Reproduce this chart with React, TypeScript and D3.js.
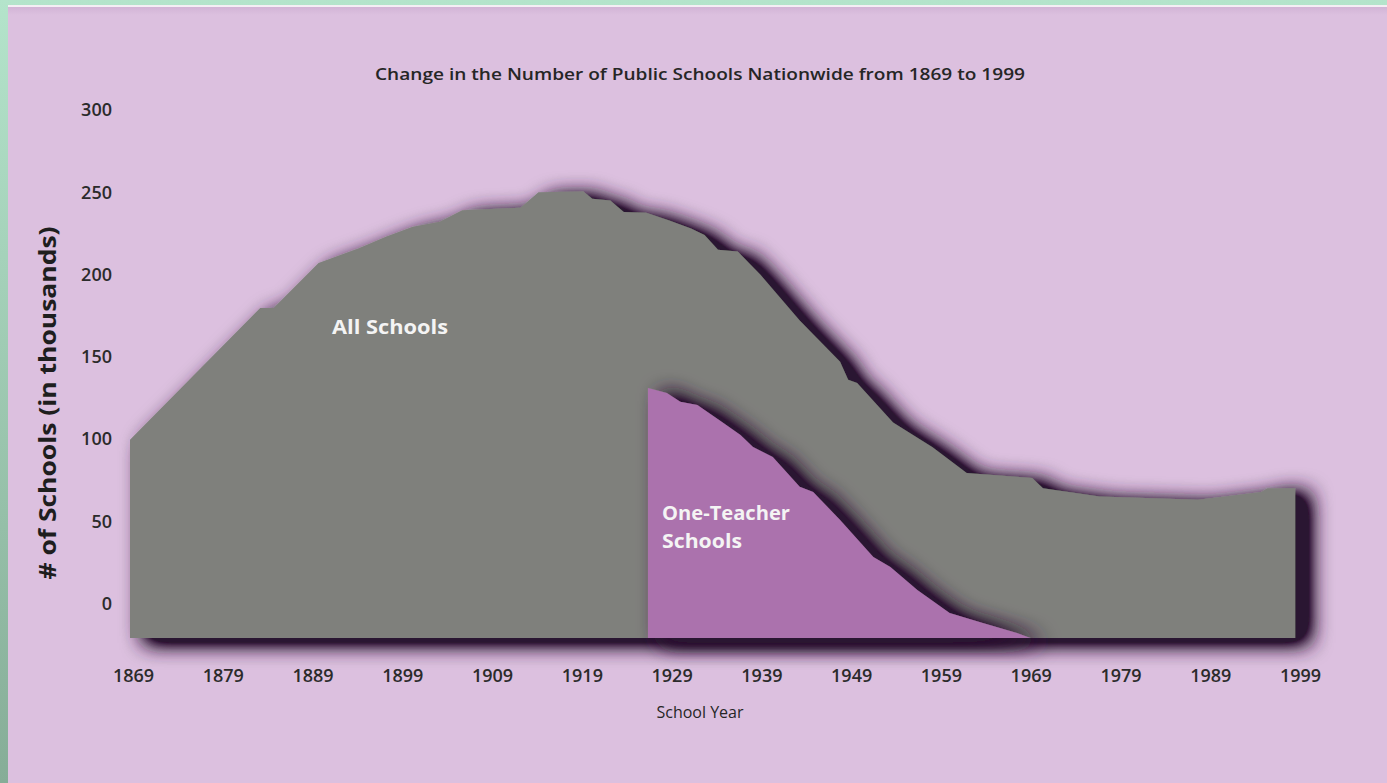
import React from "react";
import * as d3 from "d3";

const W = 1387;
const H = 783;

// All public schools (thousands)
const allYears = [1869, 1883.5, 1885, 1890, 1894.5, 1897.5, 1900.5, 1903.5, 1906, 1912.5, 1914.5, 1919.5, 1920.5, 1922.5, 1924, 1926.5, 1929, 1931.5, 1933, 1934.5, 1936.7, 1939.2, 1943.6, 1948.1, 1949, 1950, 1954, 1958.4, 1962.2, 1969.5, 1970.7, 1977, 1988, 1995, 1995.7, 1998.8];
const allValues = [99.5, 179.7, 179.7, 207, 216, 223, 229, 232, 239, 240.6, 250, 250.5, 246, 245, 238, 237.5, 233, 228, 224, 215, 214, 200, 172, 147, 136, 134, 110, 95, 79.4, 76.3, 70, 65, 63, 67.8, 70, 70];

// One-teacher schools (thousands)
const oneYears = [1926.7, 1928.8, 1930.3, 1932.2, 1935.1, 1937, 1938.4, 1940.6, 1943.6, 1945.1, 1948.1, 1951.8, 1953.7, 1956.7, 1960.3, 1964, 1967.8, 1969.3];
const oneValues = [131, 128, 122.6, 120.7, 109.8, 102.5, 95.2, 89, 70.9, 67.8, 50.8, 28.3, 22.2, 8.2, -5.8, -11.9, -17.9, -21];

const BASELINE = -21;
const yTicks = [0, 50, 100, 150, 200, 250, 300];
const xTicks = [1869, 1879, 1889, 1899, 1909, 1919, 1929, 1939, 1949, 1959, 1969, 1979, 1989, 1999];

const TITLE = "Change in the Number of Public Schools Nationwide from 1869 to 1999";
const Y_TITLE = "# of Schools (in thousands)";
const X_TITLE = "School Year";

export default function App() {
  const x = d3.scaleLinear().domain([1869, 1999]).range([130, 1297]);
  const y = d3.scaleLinear().domain([0, 300]).range([603.5, 110]);

  const allData = allYears.map((yr, i) => ({ yr, v: allValues[i] }));
  const oneData = oneYears.map((yr, i) => ({ yr, v: oneValues[i] }));

  const area = d3
    .area<{ yr: number; v: number }>()
    .x((d) => x(d.yr))
    .y0(y(BASELINE))
    .y1((d) => y(d.v))
    .curve(d3.curveLinear);

  const font = "'Open Sans', 'Liberation Sans', sans-serif";

  return (
    <svg
      width={W}
      height={H}
      style={{ position: "absolute", left: 0, top: 0, display: "block" }}
      xmlns="http://www.w3.org/2000/svg"
    >
      <defs>
        <linearGradient id="greenbg" x1="0" y1="0" x2="0" y2="1">
          <stop offset="0" stopColor="#b4e4cb" />
          <stop offset="1" stopColor="#86ad97" />
        </linearGradient>
        <linearGradient id="panelTop" x1="0" y1="0" x2="0" y2="1">
          <stop offset="0" stopColor="#d2b4d6" />
          <stop offset="1" stopColor="#dcc0df" />
        </linearGradient>
        <filter id="shadow" x="-10%" y="-25%" width="130%" height="160%">
          <feGaussianBlur in="SourceAlpha" stdDeviation="11" result="blur" />
          <feOffset in="blur" dx="14" dy="5" result="off" />
          <feComponentTransfer in="off" result="boost">
            <feFuncA type="linear" slope="1.9" intercept="0" />
          </feComponentTransfer>
          <feFlood floodColor="#2a1230" floodOpacity="1" result="col" />
          <feComposite in="col" in2="boost" operator="in" result="sh" />
          <feMerge>
            <feMergeNode in="sh" />
            <feMergeNode in="SourceGraphic" />
          </feMerge>
        </filter>
      </defs>

      <rect x={0} y={0} width={W} height={H} fill="url(#greenbg)" />
      <rect x={8} y={5} width={W - 8} height={H - 5} fill="#dcc0df" />
      <rect x={8} y={7} width={W - 8} height={8} fill="url(#panelTop)" />
      <rect x={8} y={5} width={W - 8} height={2} fill="#f4eef4" />

      <text
        x={700}
        y={80}
        textAnchor="middle"
        fontFamily={font}
        fontSize={17}
        fontWeight={600}
        fill="#262626"
        textLength={650}
        lengthAdjust="spacingAndGlyphs"
      >
        {TITLE}
      </text>

      {yTicks.map((t) => (
        <text
          key={t}
          x={112}
          y={y(t)}
          dy="0.35em"
          textAnchor="end"
          fontFamily={font}
          fontSize={18}
          fontWeight={600}
          fill="#2b2b2b"
        >
          {t}
        </text>
      ))}

      <text
        transform={`translate(56,403) rotate(-90)`}
        textAnchor="middle"
        fontFamily={font}
        fontSize={23}
        fontWeight={700}
        fill="#1e1e1e"
        textLength={353}
        lengthAdjust="spacingAndGlyphs"
      >
        {Y_TITLE}
      </text>

      <path d={area(allData) || ""} fill="#7f807c" filter="url(#shadow)" />
      <path d={area(oneData) || ""} fill="#ab72ad" filter="url(#shadow)" />

      <text
        x={390}
        y={327}
        dy="0.35em"
        textAnchor="middle"
        fontFamily={font}
        fontSize={20}
        fontWeight={700}
        fill="#f4f4f4"
        textLength={116}
        lengthAdjust="spacingAndGlyphs"
      >
        All Schools
      </text>
      <text x={662} y={513} dy="0.35em" fontFamily={font} fontSize={20} fontWeight={700} fill="#f4f4f4" textLength={128} lengthAdjust="spacingAndGlyphs">
        One-Teacher
      </text>
      <text x={662} y={541} dy="0.35em" fontFamily={font} fontSize={20} fontWeight={700} fill="#f4f4f4" textLength={80} lengthAdjust="spacingAndGlyphs">
        Schools
      </text>

      {xTicks.map((t) => (
        <text
          key={t}
          x={x(t) + 3.5}
          y={676}
          dy="0.35em"
          textAnchor="middle"
          fontFamily={font}
          fontSize={18}
          fontWeight={600}
          fill="#2b2b2b"
        >
          {t}
        </text>
      ))}

      <text
        x={700}
        y={712}
        dy="0.35em"
        textAnchor="middle"
        fontFamily={font}
        fontSize={16}
        fill="#262626"
      >
        {X_TITLE}
      </text>
    </svg>
  );
}
